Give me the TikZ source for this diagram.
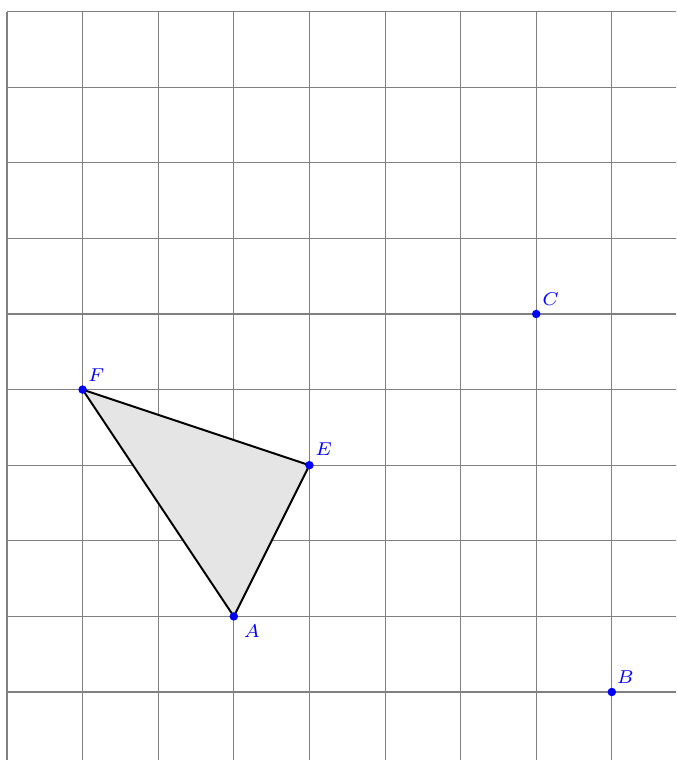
\documentclass[tikz,border=0pt]{standalone}
\usetikzlibrary{calc}
\begin{document}
\begin{tikzpicture}[x=1cm,y=1cm,
  pt/.style={circle,fill=blue,inner sep=0pt,minimum size=3.2pt},
  lbl/.style={text=blue,font=\fontsize{6.6}{7}\selectfont,inner sep=0pt},
  edge/.style={line width=0.75pt,black}]
\useasboundingbox (-0.0926,-0.899) rectangle (8.849,9.153);
\draw[gray,line width=0.4pt] (0,-0.899) grid (8.849,9);
\coordinate (A) at (3,1);
\coordinate (B) at (8,0);
\coordinate (C) at (7,5);
\coordinate (E) at (4,3);
\coordinate (F) at (1,4);
\fill[gray!20] (F) -- (E) -- (A) -- cycle;
\draw[edge,line join=round] (F) -- (E) -- (A) -- cycle;
\foreach \p in {A,B,C,E,F} { \node[pt] (d\p) at (\p) {}; }
\node[lbl] (lA) at ($(A)+(0.24,-0.2)$) {$A$};
\node[lbl] (lB) at ($(B)+(0.18,0.2)$) {$B$};
\node[lbl] (lC) at ($(C)+(0.19,0.2)$) {$C$};
\node[lbl] (lE) at ($(E)+(0.19,0.21)$) {$E$};
\node[lbl] (lF) at ($(F)+(0.18,0.19)$) {$F$};
\end{tikzpicture}
\end{document}
